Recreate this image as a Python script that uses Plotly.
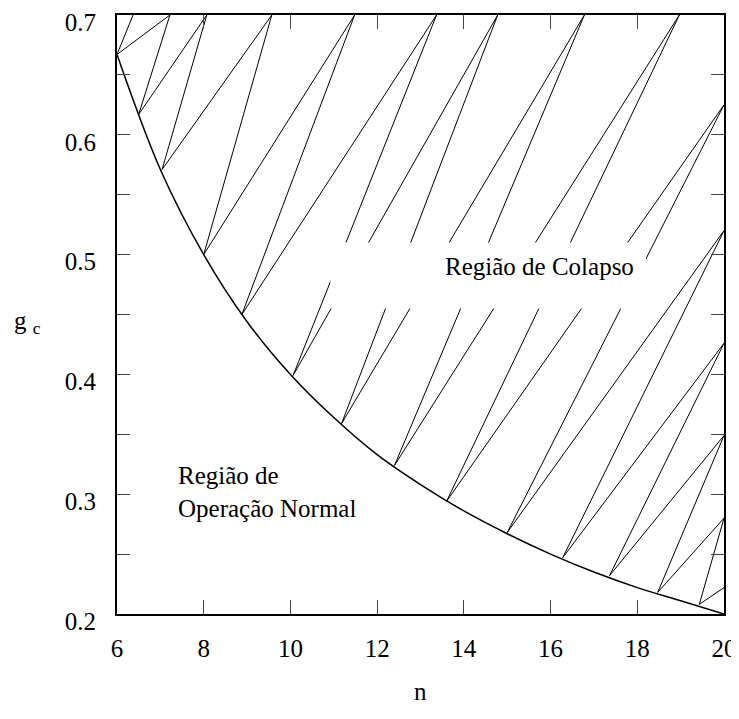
import plotly.graph_objects as go

# boundary curve g_c(n)
curve_n = [6, 7, 8, 9, 10, 11, 12, 13, 14, 15, 16, 17, 18, 19, 20]
curve_g = [0.667, 0.571, 0.500, 0.444, 0.400, 0.364, 0.333, 0.308,
           0.286, 0.267, 0.250, 0.235, 0.222, 0.211, 0.200]

# hatching: points on the curve and points on the top / right frame
low_n = [6.0, 6.5, 7.04, 8.0, 8.88, 10.06, 11.18, 12.4, 13.6, 15.0, 16.28, 17.36, 18.47, 19.43]
low_g = [0.667, 0.617, 0.571, 0.500, 0.450, 0.399, 0.359, 0.324, 0.294, 0.268, 0.247, 0.232, 0.218, 0.208]
high_n = [6.37, 7.22, 8.07, 9.57, 11.48, 13.37, 14.78, 16.78, 18.97, 20, 20, 20, 20, 20, 20]
high_g = [0.70, 0.70, 0.70, 0.70, 0.70, 0.70, 0.70, 0.70, 0.70, 0.625, 0.52, 0.426, 0.349, 0.28, 0.222]

x_ticks = [6, 8, 10, 12, 14, 16, 18, 20]
y_ticks = [0.2, 0.3, 0.4, 0.5, 0.6, 0.7]

# zigzag: top0, low0, top1, low1, ...
hx, hy = [], []
for i in range(len(low_n)):
    hx += [high_n[i], low_n[i]]
    hy += [high_g[i], low_g[i]]
hx.append(high_n[-1])
hy.append(high_g[-1])

font = "Liberation Serif"
black = "black"

fig = go.Figure()
fig.add_trace(go.Scatter(x=hx, y=hy, mode="lines",
                         line=dict(color=black, width=1), hoverinfo="skip"))
fig.add_trace(go.Scatter(x=curve_n, y=curve_g, mode="lines", line_shape="spline",
                         line=dict(color=black, width=1.5)))

# white band behind the label (the hatching is broken there)
fig.add_shape(type="rect", x0=10.92, x1=18.2, y0=0.455, y1=0.51, layer="above",
              fillcolor="white", line_width=0)
fig.add_annotation(x=15.75, y=0.49, text="Região de Colapso", showarrow=False,
                   font=dict(family=font, size=25, color=black))
fig.add_annotation(x=7.35, y=0.302, text="Região de<br>Operação Normal", showarrow=False,
                   xanchor="left", align="left",
                   font=dict(family=font, size=25, color=black))
fig.add_annotation(xref="paper", x=-0.173, y=0.443, text="g <sub>c</sub>", showarrow=False,
                   xanchor="left", font=dict(family=font, size=25, color=black))
fig.add_annotation(xref="paper", yref="paper", x=0.5, y=-0.156, text="n", showarrow=False,
                   font=dict(family=font, size=25, color=black))

fig.update_xaxes(range=[6, 20], tickvals=x_ticks, ticks="inside", ticklen=14,
                 showline=True, linecolor=black, linewidth=2, mirror="ticks",
                 showgrid=False, zeroline=False, ticklabelstandoff=11,
                 ticklabeloverflow="allow", automargin=False,
                 tickfont=dict(family=font, size=25, color=black))
fig.update_yaxes(range=[0.2, 0.7], tickvals=y_ticks, tickformat=".1f", ticks="inside",
                 ticklen=13, minor=dict(dtick=0.05, ticks="inside", ticklen=13),
                 showline=True, linecolor=black, linewidth=2, mirror="ticks",
                 showgrid=False, zeroline=False, ticklabelstandoff=14, ticklabelshift=7,
                 ticklabeloverflow="allow", automargin=False,
                 tickfont=dict(family=font, size=25, color=black))

# the page body adds an 8px offset, so the figure is a bit smaller than the window
fig.update_layout(width=731, height=711, showlegend=False,
                  margin=dict(l=109, r=15, t=7, b=105),
                  plot_bgcolor="white", paper_bgcolor="white")

fig.write_html("out.html")
